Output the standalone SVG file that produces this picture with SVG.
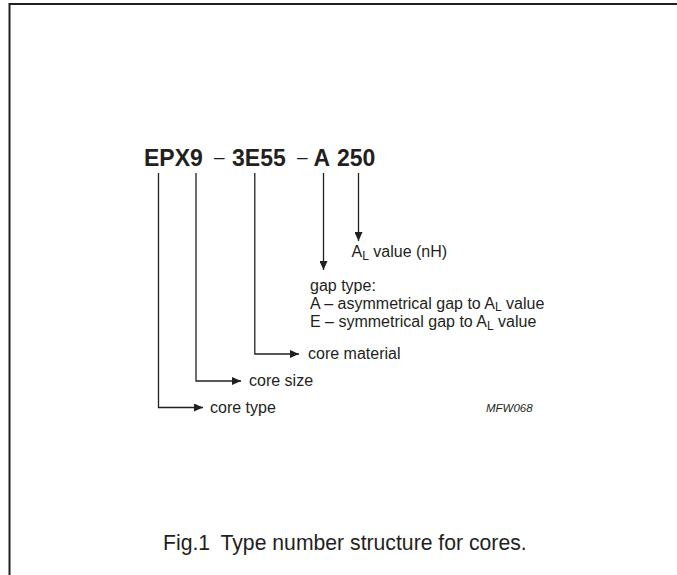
<svg xmlns="http://www.w3.org/2000/svg" width="677" height="575" viewBox="0 0 677 575">
<defs>
<style>
text{font-family:"Liberation Sans",Arial,Helvetica,sans-serif;fill:#231f20}
.title{font-size:23px;font-weight:bold}
.dash{font-size:19px;font-weight:normal}
.lbl{font-size:16px}
.sub{font-size:12px}
.code{font-size:11.5px;font-style:italic}
.cap{font-size:21.2px}
.conn{fill:none;stroke:#231f20;stroke-width:1.3}
</style>
<marker id="ah" viewBox="0 0 9 8" refX="9" refY="4" markerWidth="9" markerHeight="8" markerUnits="userSpaceOnUse" orient="auto">
<path d="M0,0 L9,4 L0,8 z" fill="#231f20"/>
</marker>
</defs>
<rect width="677" height="575" fill="#fff"/>
<path d="M9.5,575 V4 H677" fill="none" stroke="#231f20" stroke-width="2"/>
<g id="type-number">
<text class="title" y="166"><tspan x="144">EPX9</tspan><tspan class="dash" x="214" dy="-3">–</tspan><tspan x="232" dy="3">3E55</tspan><tspan class="dash" x="297" dy="-3">–</tspan><tspan x="313.5" dy="3">A</tspan><tspan x="337">250</tspan></text>
</g>
<g id="connectors">
<path class="conn" d="M158.5,173 V407.5 H203" marker-end="url(#ah)"/>
<path class="conn" d="M196,173 V381 H241" marker-end="url(#ah)"/>
<path class="conn" d="M254.8,173 V354 H299" marker-end="url(#ah)"/>
<path class="conn" d="M323.5,173 V270" marker-end="url(#ah)"/>
<path class="conn" d="M358.5,173 V241" marker-end="url(#ah)"/>
</g>
<g id="al-value">
<text class="lbl" x="351.5" y="257.3">A<tspan class="sub" dy="3">L</tspan><tspan dy="-3"> value (nH)</tspan></text>
</g>
<g id="gap-type">
<text class="lbl" x="310" y="291">gap type:</text>
<text class="lbl" x="310" y="308.8">A – asymmetrical gap to A<tspan class="sub" dy="2.5">L</tspan><tspan dy="-2.5"> value</tspan></text>
<text class="lbl" x="310" y="327">E – symmetrical gap to A<tspan class="sub" dy="2.5">L</tspan><tspan dy="-2.5"> value</tspan></text>
</g>
<g id="core-material">
<text class="lbl" x="308" y="359">core material</text>
</g>
<g id="core-size">
<text class="lbl" x="249" y="385.5">core size</text>
</g>
<g id="core-type">
<text class="lbl" x="210" y="412.5">core type</text>
</g>
<g id="code">
<text class="code" x="486" y="412">MFW068</text>
</g>
<g id="caption">
<text class="cap" y="550"><tspan x="163">Fig.1</tspan><tspan x="220.5">Type number structure for cores.</tspan></text>
</g>
</svg>
